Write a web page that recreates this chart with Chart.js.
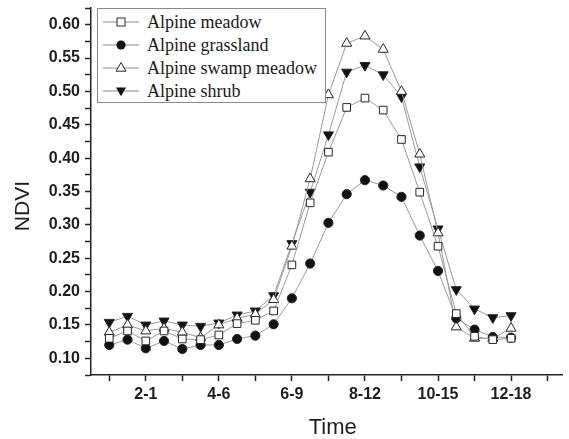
<!DOCTYPE html>
<html><head><meta charset="utf-8">
<script src="https://cdn.jsdelivr.net/npm/chart.js@4.4.0/dist/chart.umd.min.js"></script>
<style>
html,body{margin:0;padding:0;background:#fff;}
#wrap{position:relative;width:569px;height:439px;}
#legend{position:absolute;left:97px;top:8px;width:227px;height:93px;border:1px solid #8a8a8a;background:#fff;font-family:"Liberation Serif","Times New Roman",serif;font-size:18px;color:#1a1a1a;}
.row{position:absolute;left:0;height:22px;display:flex;align-items:center;white-space:nowrap;}
.row svg{margin-left:5px;display:block;}
.row span{margin-left:8px;line-height:22px;}
</style></head>
<body><div id="wrap"><canvas id="c" width="569" height="439"></canvas><div id="legend"></div></div>
<script>
// ---- data ----
const seriesNames = ['Alpine meadow', 'Alpine grassland', 'Alpine swamp meadow', 'Alpine shrub'];
const timeIndex = [0,1,2,3,4,5,6,7,8,9,10,11,12,13,14,15,16,17,18,19,20,21,22];
const alpineMeadow    = [0.130,0.141,0.126,0.141,0.129,0.128,0.135,0.152,0.157,0.171,0.240,0.333,0.409,0.476,0.490,0.472,0.428,0.349,0.268,0.167,0.133,0.128,0.130];
const alpineGrassland = [0.120,0.128,0.115,0.126,0.114,0.120,0.120,0.129,0.134,0.151,0.190,0.242,0.303,0.346,0.367,0.359,0.342,0.284,0.231,0.160,0.143,0.132,0.131];
const alpineSwamp     = [0.139,0.150,0.141,0.145,0.139,0.131,0.150,0.160,0.166,0.188,0.268,0.369,0.495,0.572,0.583,0.563,0.500,0.406,0.288,0.147,0.130,0.130,0.145];
const alpineShrub     = [0.154,0.163,0.150,0.156,0.150,0.148,0.153,0.165,0.171,0.194,0.272,0.349,0.435,0.529,0.539,0.525,0.492,0.387,0.294,0.203,0.174,0.161,0.164];
const xTickValues = [2, 6, 10, 14, 18, 22];
const xTickLabels = ['2-1', '4-6', '6-9', '8-12', '10-15', '12-18'];
const yTickLabels = ['0.10','0.15','0.20','0.25','0.30','0.35','0.40','0.45','0.50','0.55','0.60'];

Chart.defaults.font.family = "'Liberation Sans', Arial, sans-serif";
Chart.defaults.color = '#1e1e1e';

const toXY = arr => arr.map((v, i) => ({x: timeIndex[i], y: v}));
const lineColor = '#9a9a9a';
const markColor = '#262626';

const common = {borderColor: lineColor, borderWidth: 1, pointBorderColor: markColor, pointBorderWidth: 1, tension: 0, pointHoverRadius: 5};
const datasets = [
  Object.assign({label: seriesNames[0], data: toXY(alpineMeadow), pointStyle: 'rect', pointRadius: 5.4, pointBackgroundColor: '#fff'}, common),
  Object.assign({label: seriesNames[1], data: toXY(alpineGrassland), pointStyle: 'circle', pointRadius: 4.6, pointBackgroundColor: '#111'}, common),
  Object.assign({label: seriesNames[2], data: toXY(alpineSwamp), pointStyle: 'triangle', pointRadius: 5.8, pointBackgroundColor: '#fff'}, common),
  Object.assign({label: seriesNames[3], data: toXY(alpineShrub), pointStyle: 'triangle', pointRotation: 180, pointRadius: 5.8, pointBackgroundColor: '#111'}, common)
];

const xTicks = []; for (let v = 0; v <= 24; v += 2) xTicks.push(v);
const yTicks = []; for (let k = 3; k <= 25; k++) yTicks.push(k * 0.025);

const nb = '\u00a0';
new Chart(document.getElementById('c'), {
  type: 'line',
  data: {datasets},
  options: {
    responsive: false, animation: false, devicePixelRatio: 1,
    layout: {padding: {top: 8, left: 0, right: 0, bottom: 0}},
    plugins: {legend: {display: false}, tooltip: {enabled: false}},
    scales: {
      x: {
        type: 'linear', min: -1, max: 24.8,
        afterBuildTicks: s => { s.ticks = xTicks.map(v => ({value: v})); },
        afterFit: s => { s.height = 64; s.paddingLeft = 0; s.paddingRight = 0; },
        ticks: {autoSkip: false, maxRotation: 0, padding: 4, color: '#1e1e1e',
          font: {size: 16, weight: 'bold'},
          callback: v => { const k = xTickValues.indexOf(v); return k >= 0 ? xTickLabels[k] : ''; }},
        grid: {drawOnChartArea: false, drawTicks: true, tickLength: 6, tickColor: '#222', tickWidth: 1.5},
        border: {color: '#222', width: 1.5},
        title: {display: true, text: nb + nb + 'Time', font: {size: 22, lineHeight: 1}, color: '#1e1e1e', padding: 0}
      },
      y: {
        min: 0.075, max: 0.625,
        afterBuildTicks: s => { s.ticks = yTicks.map(v => ({value: v})); },
        afterFit: s => { s.width = 91; s.paddingTop = 0; s.paddingBottom = 0; },
        ticks: {autoSkip: false, padding: 5, color: '#1e1e1e', font: {size: 16, weight: 'bold'},
          callback: v => { const m = Math.round(v * 1000); return m % 50 === 0 ? yTickLabels[(m - 100) / 50] : ''; }},
        grid: {drawOnChartArea: false, drawTicks: true, tickLength: 6, tickColor: '#222', tickWidth: 1.5},
        border: {color: '#222', width: 1.5},
        title: {display: true, text: 'NDVI' + nb + nb + nb + nb + nb, font: {size: 21, lineHeight: 1.2}, color: '#1e1e1e', padding: {top: 11, bottom: 0}}
      }
    }
  }
});

// ---- legend (HTML) ----
const markerSvg = [
  '<rect x="14" y="7" width="8" height="8" fill="#fff" stroke="#262626" stroke-width="1"/>',
  '<circle cx="18" cy="11" r="4.6" fill="#111"/>',
  '<polygon points="18,5.5 23,14.2 13,14.2" fill="#fff" stroke="#262626" stroke-width="1"/>',
  '<polygon points="13,7.5 23,7.5 18,16.2" fill="#111"/>'
];
const legend = document.getElementById('legend');
seriesNames.forEach((name, i) => {
  const row = document.createElement('div');
  row.className = 'row';
  row.style.top = (2 + i * 23) + 'px';
  row.innerHTML = '<svg width="36" height="22" viewBox="0 0 36 22"><line x1="0" y1="11" x2="36" y2="11" stroke="#8a8a8a" stroke-width="1"/>' + markerSvg[i] + '</svg><span>' + name + '</span>';
  legend.appendChild(row);
});
</script>
</body></html>
